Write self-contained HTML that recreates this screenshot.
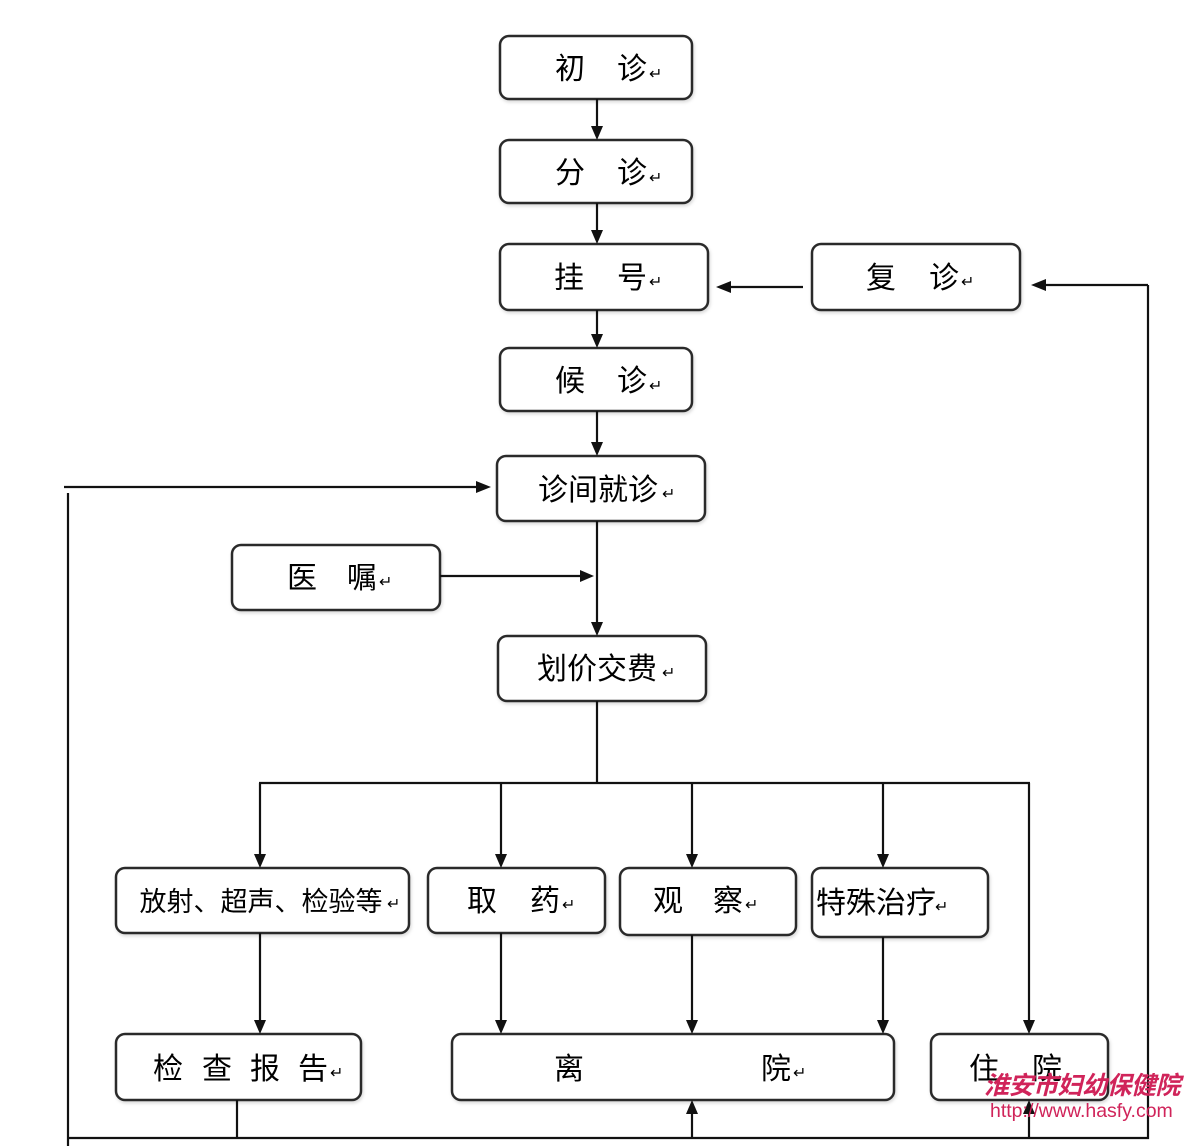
<!DOCTYPE html>
<html><head><meta charset="utf-8">
<style>
html,body{margin:0;padding:0;background:#fff;}
svg{display:block;}
text{font-family:"Liberation Sans","WenQuanYi Zen Hei","Noto Sans CJK SC",sans-serif;fill:#000;}
.t{font-size:30px;}
.r{font-size:16px;fill:#999;}
</style></head>
<body>
<svg width="1186" height="1146" viewBox="0 0 1186 1146" xmlns="http://www.w3.org/2000/svg">
<defs>
<filter id="sh" x="-5%" y="-5%" width="110%" height="115%">
<feDropShadow dx="1" dy="2" stdDeviation="1.5" flood-color="#000" flood-opacity="0.15"/>
</filter>
</defs>
<g fill="#fff" stroke="#2a2a2a" stroke-width="2.5" filter="url(#sh)">
<rect x="500" y="36" width="192" height="63" rx="9"/>
<rect x="500" y="140" width="192" height="63" rx="9"/>
<rect x="500" y="244" width="208" height="66" rx="9"/>
<rect x="812" y="244" width="208" height="66" rx="9"/>
<rect x="500" y="348" width="192" height="63" rx="9"/>
<rect x="497" y="456" width="208" height="65" rx="9"/>
<rect x="232" y="545" width="208" height="65" rx="9"/>
<rect x="498" y="636" width="208" height="65" rx="9"/>
<rect x="116" y="868" width="293" height="65" rx="9"/>
<rect x="428" y="868" width="177" height="65" rx="9"/>
<rect x="620" y="868" width="176" height="67" rx="9"/>
<rect x="812" y="868" width="176" height="69" rx="9"/>
<rect x="116" y="1034" width="245" height="66" rx="9"/>
<rect x="452" y="1034" width="442" height="66" rx="9"/>
<rect x="931" y="1034" width="177" height="66" rx="9"/>
</g>
<g stroke="#111" stroke-width="2.2" fill="none">
<line x1="597" y1="99" x2="597" y2="128"/>
<line x1="597" y1="203" x2="597" y2="232"/>
<line x1="597" y1="310" x2="597" y2="336"/>
<line x1="597" y1="411" x2="597" y2="444"/>
<line x1="597" y1="521" x2="597" y2="624"/>
<line x1="440" y1="576" x2="582" y2="576"/>
<line x1="597" y1="701" x2="597" y2="783"/>
<line x1="259" y1="783" x2="1030" y2="783"/>
<line x1="260" y1="783" x2="260" y2="856"/>
<line x1="501" y1="783" x2="501" y2="856"/>
<line x1="692" y1="783" x2="692" y2="856"/>
<line x1="883" y1="783" x2="883" y2="856"/>
<line x1="1029" y1="783" x2="1029" y2="1022"/>
<line x1="260" y1="933" x2="260" y2="1022"/>
<line x1="501" y1="933" x2="501" y2="1022"/>
<line x1="692" y1="935" x2="692" y2="1022"/>
<line x1="883" y1="937" x2="883" y2="1022"/>
<line x1="237" y1="1100" x2="237" y2="1138"/>
<line x1="692" y1="1112" x2="692" y2="1138"/>
<line x1="1029" y1="1112" x2="1029" y2="1138"/>
<line x1="68" y1="1138" x2="1149" y2="1138"/>
<line x1="1148" y1="285" x2="1148" y2="1139"/>
<line x1="1148" y1="285" x2="1044" y2="285"/>
<line x1="803" y1="287" x2="730" y2="287"/>
<line x1="68" y1="493" x2="68" y2="1146"/>
<line x1="64" y1="487" x2="478" y2="487"/>
</g>
<g fill="#111">
<polygon points="591,126 603,126 597,140"/>
<polygon points="591,230 603,230 597,244"/>
<polygon points="591,334 603,334 597,348"/>
<polygon points="591,442 603,442 597,456"/>
<polygon points="591,622 603,622 597,636"/>
<polygon points="580,570 580,582 594,576"/>
<polygon points="254,854 266,854 260,868"/>
<polygon points="495,854 507,854 501,868"/>
<polygon points="686,854 698,854 692,868"/>
<polygon points="877,854 889,854 883,868"/>
<polygon points="1023,1020 1035,1020 1029,1034"/>
<polygon points="254,1020 266,1020 260,1034"/>
<polygon points="495,1020 507,1020 501,1034"/>
<polygon points="686,1020 698,1020 692,1034"/>
<polygon points="877,1020 889,1020 883,1034"/>
<polygon points="686,1114 698,1114 692,1100"/>
<polygon points="1023,1114 1035,1114 1029,1100"/>
<polygon points="1046,279 1046,291 1031,285"/>
<polygon points="731,281 731,293 716,287"/>
<polygon points="476,481 476,493 491,487"/>
</g>
<g class="t" text-anchor="middle">
<text x="570" y="79">初</text><text x="632" y="79">诊</text>
<text x="570" y="183">分</text><text x="632" y="183">诊</text>
<text x="569" y="288">挂</text><text x="632" y="288">号</text>
<text x="881" y="288">复</text><text x="944" y="288">诊</text>
<text x="570" y="391">候</text><text x="632" y="391">诊</text>
<text x="598" y="500">诊间就诊</text>
<text x="302" y="588">医</text><text x="362" y="588">嘱</text>
<text x="597" y="679">划价交费</text>
<text x="261" y="911" style="font-size:27px">放射、超声、检验等</text>
<text x="482" y="911">取</text><text x="545" y="911">药</text>
<text x="668" y="911">观</text><text x="728" y="911">察</text>
<text x="876" y="913">特殊治疗</text>
<text x="168" y="1079">检</text><text x="217" y="1079">查</text><text x="265" y="1079">报</text><text x="313" y="1079">告</text>
<text x="569" y="1079">离</text><text x="776" y="1079">院</text>
<text x="984" y="1079">住</text><text x="1047" y="1079">院</text>
</g>
<g class="r">
<text x="649" y="79">↵</text>
<text x="649" y="183">↵</text>
<text x="649" y="287">↵</text>
<text x="961" y="287">↵</text>
<text x="649" y="391">↵</text>
<text x="662" y="499">↵</text>
<text x="379" y="587">↵</text>
<text x="662" y="678">↵</text>
<text x="387" y="909">↵</text>
<text x="562" y="910">↵</text>
<text x="745" y="910">↵</text>
<text x="935" y="912">↵</text>
<text x="330" y="1078">↵</text>
<text x="793" y="1078">↵</text>
</g>
<text x="984" y="1094" style="font-size:25px;fill:#d0245a;font-style:italic;font-weight:bold;letter-spacing:-0.5px">淮安市妇幼保健院</text>
<text x="990" y="1117" style="font-size:19.5px;fill:#d0245a;">http://www.hasfy.com</text>
</svg>
</body></html>
